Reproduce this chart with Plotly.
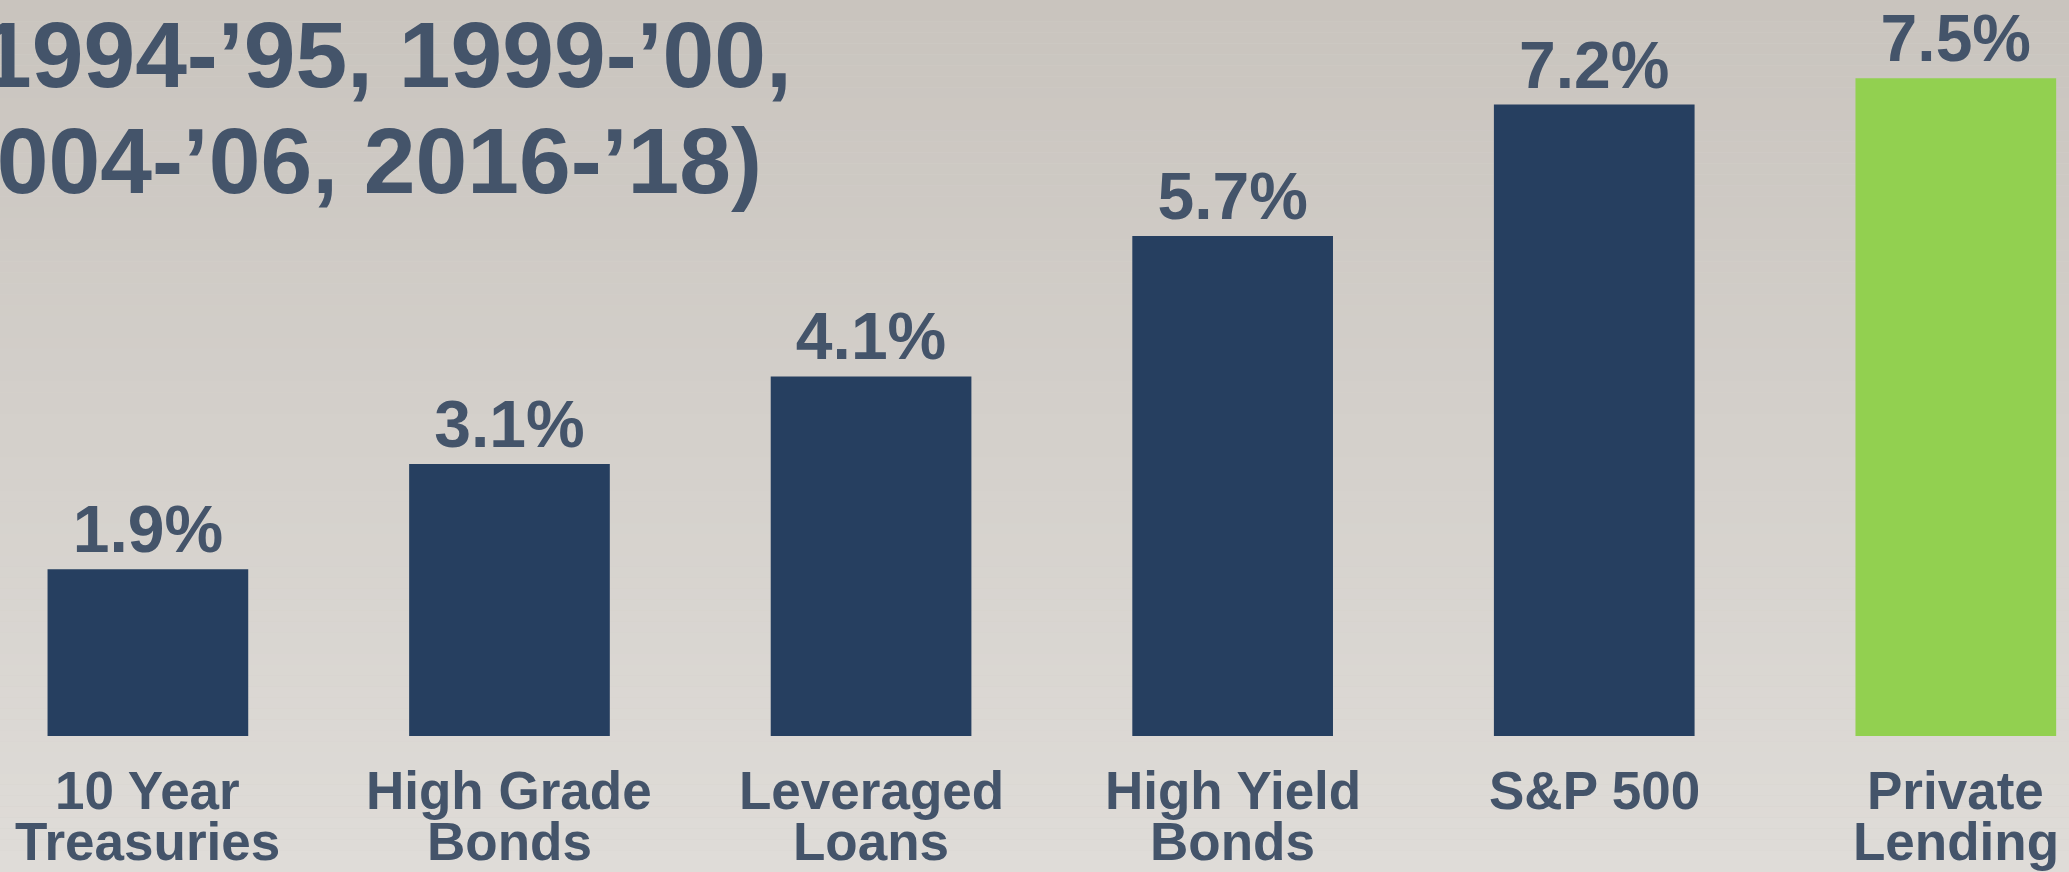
import plotly.graph_objects as go

# ---- data ----
categories = ["10 Year\nTreasuries", "High Grade\nBonds", "Leveraged\nLoans",
              "High Yield\nBonds", "S&P 500", "Private\nLending"]
returns = [1.9, 3.1, 4.1, 5.7, 7.2, 7.5]
highlight = "Private\nLending"
title_lines = ["(1994-\u201995, 1999-\u201900,", "2004-\u201906, 2016-\u201918)"]

# ---- style ----
W, H = 2069, 872
NAVY = "#263F60"
GREEN = "#92D050"
TEXT = "#44546A"
FONT = "Liberation Sans, Arial, sans-serif"

names = [c.replace("\n", " ") for c in categories]
colors = [GREEN if c == highlight else NAVY for c in categories]

fig = go.Figure()
fig.add_trace(go.Bar(
    x=names, y=returns,
    marker=dict(color=colors, line=dict(width=0)),
    text=[f"<b>{v:.1f}%</b>" for v in returns],
    textposition="outside",
    constraintext="none",
    cliponaxis=False,
    textfont=dict(family=FONT, size=66, color=TEXT),
    hoverinfo="skip",
))

# category labels (two lines, tight spacing)
line_y = [0.093, 0.035]
for name, cat in zip(names, categories):
    for i, part in enumerate(cat.split("\n")):
        fig.add_annotation(
            x=name, xref="x", y=line_y[i], yref="paper",
            text=f"<b>{part}</b>", showarrow=False,
            xanchor="center", yanchor="middle",
            font=dict(family=FONT, size=53, color=TEXT),
        )

# title (cropped at the left edge as in the source slide)
title_pos = [(794 / W, 1 - 55 / H), (764 / W, 1 - 161 / H)]
for txt, (tx, ty) in zip(title_lines, title_pos):
    fig.add_annotation(
        x=tx, xref="paper", y=ty, yref="paper",
        text=f"<b>{txt}</b>", showarrow=False,
        xanchor="right", yanchor="middle",
        font=dict(family=FONT, size=93, color=TEXT),
    )

# background vertical gradient
top = (0xC9, 0xC4, 0xBE)
bot = (0xDF, 0xDC, 0xD8)
nb = 80
shapes = []
for k in range(nb):
    t = k / (nb - 1)
    c = tuple(round(top[j] + (bot[j] - top[j]) * t) for j in range(3))
    shapes.append(dict(
        type="rect", xref="paper", yref="paper", layer="below",
        x0=0, x1=1, y0=1 - (k + 1) / nb, y1=1 - k / nb,
        fillcolor="rgb(%d,%d,%d)" % c, line=dict(width=0),
    ))

fig.update_layout(
    width=W, height=H,
    margin=dict(l=0, r=0, t=0, b=0, pad=0),
    paper_bgcolor="#D4D0CB", plot_bgcolor="rgba(0,0,0,0)",
    showlegend=False,
    bargap=0.445,
    shapes=shapes,
    xaxis=dict(visible=False, range=[-0.409, 5.313]),
    yaxis=dict(visible=False, range=[-1.551, 8.392]),
)

fig.write_html("out.html", config={"displayModeBar": False})
